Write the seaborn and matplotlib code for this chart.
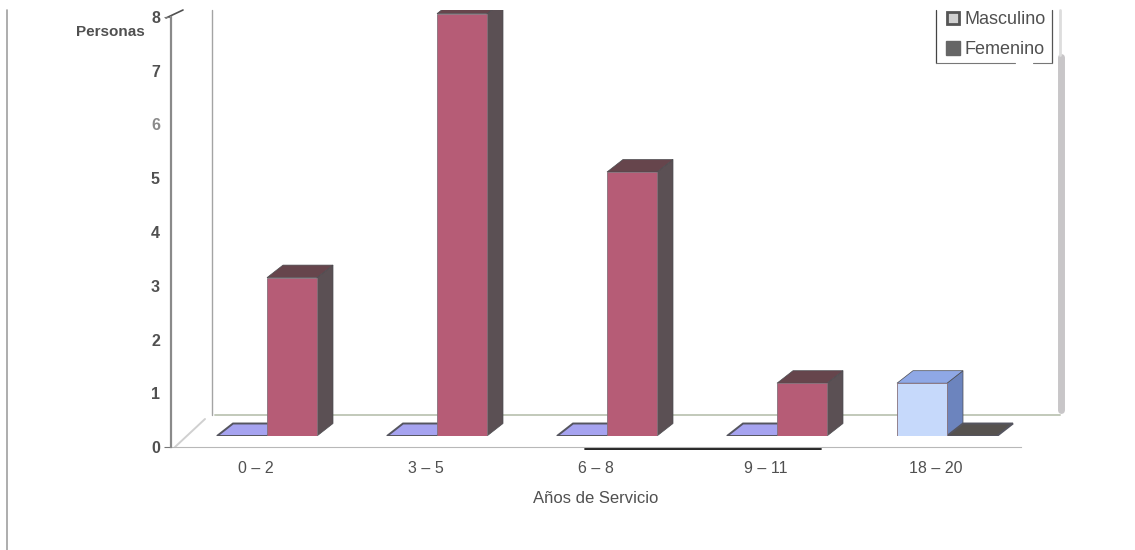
#scan of a 3D-looking bar chart, side faces are added by hand on top of seaborn bars
import pandas as pd
import matplotlib
matplotlib.use("Agg")
import matplotlib.pyplot as plt
import seaborn as sns
from matplotlib.lines import Line2D
from matplotlib.patches import Polygon
from matplotlib.transforms import Affine2D

categorias = ["0 – 2", "3 – 5", "6 – 8", "9 – 11", "18 – 20"]
masculino = [0, 0, 0, 0, 1]
femenino = [3, 8, 5, 1, 0]
yticks = [0, 1, 2, 3, 4, 5, 6, 7, 8]

W, H = 1135, 550
TEXTO = "#505050"
PX_POR_PERSONA = 52.8

sns.set_style("white")
plt.rcParams["font.family"] = ["Liberation Sans", "DejaVu Sans"]

df = pd.DataFrame({
    "Años": categorias * 2,
    "Sexo": ["Masculino"] * 5 + ["Femenino"] * 5,
    "Personas": masculino + femenino,
})

fig = plt.figure(figsize=(W / 100, H / 100), dpi=100)
px = Affine2D().scale(1 / W, -1 / H).translate(0, 1) + fig.transFigure


def axes_px(x0, x1, y_top, y_bottom, **kw):
    return fig.add_axes([x0 / W, 1 - y_bottom / H, (x1 - x0) / W, (y_bottom - y_top) / H], **kw)


def linea(xs, ys, color, lw=1.0, **kw):
    fig.add_artist(Line2D(xs, ys, transform=px, color=color, lw=lw, zorder=-1, **kw))


# fondo: paredes y piso
linea([212, 212], [10, 415], "#a4a4a4", 1.0)
linea([215, 1060], [415, 415], "#c2c9ba", 1.4)
linea([175, 205], [447, 419], "#d0d0d0", 1.4)
linea([1061, 1061], [57, 410], "#c8c6c8", 5)
linea([1060, 1060], [10, 55], "#dddddd", 2)
linea([7, 7], [10, 550], "#a0a0a0", 1.2)
linea([166, 183], [18, 10], "#505050", 1.2)

# ejes delanteros
ax = axes_px(171, 1021, 17, 447)
ax.patch.set_alpha(0)
ax.set_xlim(-0.5, 4.5)
ax.set_ylim(0, 8)
ax.set_xticks(range(5))
ax.set_xticklabels(categorias, fontsize=11.5, color=TEXTO)
ax.set_yticks(yticks)
ax.set_yticklabels(yticks, fontsize=11.5, color=TEXTO, fontweight="bold")
ax.tick_params(axis="y", length=5, width=0.8, color="#777777", pad=3, left=True)
ax.tick_params(axis="x", length=0, pad=10)
# en el original solo se ven las marcas de 0 y 8
for t in ax.yaxis.get_major_ticks()[1:-1]:
    t.tick1line.set_visible(False)
ax.get_yticklabels()[6].set_color("#8a8a8a")
ax.set_xlabel("Años de Servicio", fontsize=12, color=TEXTO, labelpad=11)
sns.despine(ax=ax, top=True, right=True)
ax.spines["left"].set(color="#8a8a8a", linewidth=1.6, zorder=5)
ax.spines["bottom"].set(color="#b8b8b8", linewidth=0.8, linestyle=(0, (4, 1)))
fig.text(145 / W, 1 - 32 / H, "Personas", ha="right", va="center",
         fontsize=11, fontweight="bold", color=TEXTO)
linea([585, 821], [448.5, 448.5], "#111111", 1.3)

# barras: el recorte superior esta en y=10
ax2 = axes_px(182, 1032, 10, 436)
ax2.patch.set_alpha(0)
sns.barplot(data=df, x="Años", y="Personas", hue="Sexo",
            order=categorias, hue_order=["Masculino", "Femenino"],
            palette={"Masculino": "#C6D9FB", "Femenino": "#B65C76"},
            width=100 / 170, gap=0, legend=False, ax=ax2, saturation=1,
            edgecolor="#86707a", linewidth=0.6)
ax2.set_xlim(-0.5, 4.5)
ax2.set_ylim(0, 426 / PX_POR_PERSONA)
ax2.set_axis_off()

dx = 16 / 170
dy = 12.5 / PX_POR_PERSONA
caras = {
    0: {"top": "#8FA8E6", "side": "#6C84BE", "flat": "#A6A3F0"},
    1: {"top": "#66454C", "side": "#5B5054", "flat": "#56524F"},
}
for i, cont in enumerate(ax2.containers):
    c = caras[i]
    for bar in cont:
        x0, y0 = bar.get_x(), bar.get_y()
        x1, y1 = x0 + bar.get_width(), y0 + bar.get_height()
        bar.set_zorder(4 + i * 2)
        if bar.get_height() == 0:
            bar.set_visible(False)
            ax2.add_patch(Polygon([(x0, 0), (x1, 0), (x1 + dx, dy), (x0 + dx, dy)],
                                  facecolor=c["flat"], edgecolor="#55555f", lw=1.4, zorder=3))
            continue
        ax2.add_patch(Polygon([(x1, y0), (x1 + dx, y0 + dy), (x1 + dx, y1 + dy), (x1, y1)],
                              facecolor=c["side"], edgecolor="#4c4c50", lw=0.5, zorder=3 + i * 2))
        ax2.add_patch(Polygon([(x0, y1), (x1, y1), (x1 + dx, y1 + dy), (x0 + dx, y1 + dy)],
                              facecolor=c["top"], edgecolor="#4c4c50", lw=0.5, zorder=3 + i * 2))

# leyenda, el marco queda abierto arriba como en el escaneo
handles = [
    Line2D([], [], ls="", marker="s", ms=9, mfc="#d0d0d0", mec="#555555", mew=2),
    Line2D([], [], ls="", marker="s", ms=10, mfc="#666666", mec="#666666"),
]
ax2.legend(handles, ["Masculino", "Femenino"], frameon=False, fontsize=13,
           labelcolor=TEXTO, loc="upper left", bbox_to_anchor=(938 / W, 1 - 6 / H),
           bbox_transform=fig.transFigure, borderpad=0.3, borderaxespad=0,
           handletextpad=0.05, handlelength=1.1, labelspacing=0.72)
linea([936, 936], [10, 63], "#444444", 0.9)
linea([1052, 1052], [10, 63], "#555555", 0.9)
linea([936, 1015], [63, 63], "#777777", 0.8)
linea([1033, 1052], [63, 63], "#777777", 0.8)

fig.savefig("out.png", dpi=100)
